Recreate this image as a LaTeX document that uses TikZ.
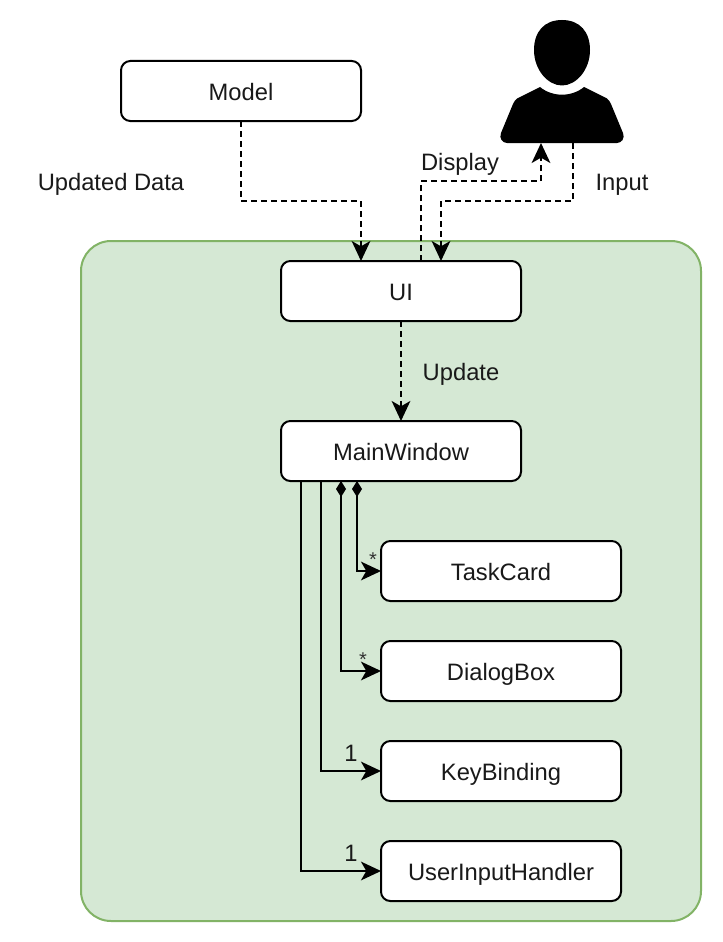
\documentclass[tikz,border=0pt]{standalone}
\usepackage{fontspec}
\setmainfont{Liberation Sans}
\usetikzlibrary{arrows.meta,calc}
\definecolor{groupfill}{HTML}{D5E8D4}
\definecolor{groupline}{HTML}{82B366}
\tikzset{
  x=0.75pt,y=-0.75pt,
  labeltext/.style={inner sep=0pt,outer sep=0pt,text height=16pt,text depth=2.5pt,font=\fontsize{17.8pt}{20pt}\selectfont,text=black!90},
  classbox/.style={labeltext,draw=black,fill=white,line width=1.5pt,rounded corners=7pt,minimum width=180pt,minimum height=45pt},
  plain/.style={labeltext},
  starmark/.style={inner sep=0pt,font=\fontsize{15pt}{16pt}\selectfont,text=black!80},
  conn/.style={line width=1.5pt,draw=black,-{Stealth[length=15pt,width=14pt,inset=4pt]}},
  depends/.style={conn,dash pattern=on 4.5pt off 3pt},
  comp/.style={conn,{Diamond[length=12pt,width=7.5pt]}-{Stealth[length=15pt,width=14pt,inset=4pt]}},
}
\begin{document}
\begin{tikzpicture}
\useasboundingbox[fill=white] (0,0) rectangle (722,942);
\node[draw=groupline,fill=groupfill,line width=1.5pt,rounded corners=22.5pt,minimum width=465pt,minimum height=510pt,inner sep=0pt] (group) at (391,581) {};
\node[classbox] (model) at (241,91) {Model};
\node[classbox] (ui) at (401,291) {UI};
\node[classbox] (main) at (401,451) {MainWindow};
\node[classbox] (task) at (501,571) {TaskCard};
\node[classbox] (dialog) at (501,671) {DialogBox};
\node[classbox] (key) at (501,771) {KeyBinding};
\node[classbox] (handler) at (501,871) {UserInputHandler};
% person
\fill[black] (562,20) .. controls (544,20) and (534,32) .. (534,50) .. controls (534,70) and (548,85.5) .. (562,85.5) .. controls (576,85.5) and (590,70) .. (590,50) .. controls (590,32) and (580,20) .. (562,20) -- cycle;
\fill[black] (540,87) .. controls (546,92) and (554,94.7) .. (562,94.7) .. controls (570,94.7) and (578,92) .. (584,87) -- (607,98.5) .. controls (609,100) and (610,102) .. (611,104) -- (623,133) .. controls (625,138) and (622,143) .. (617,143) -- (507,143) .. controls (502,143) and (499,138) .. (501,133) -- (513,104) .. controls (514,102) and (515,100) .. (517,98.5) -- cycle;
\node[minimum width=93pt,minimum height=92.25pt,inner sep=0pt,outer sep=0pt] (person) at (562,81.5) {};
% dashed
\draw[depends] (model.south) -- ++(0,80) -| ([xshift=-30pt]ui.north);
\draw[depends] ([xshift=15pt]ui.north) -- ++(0,-80) -| ([xshift=-15.75pt]person.south);
\draw[depends] ([xshift=8.25pt]person.south) -- ++(0,58) -| ([xshift=30pt]ui.north);
\draw[depends] (ui.south) -- (main.north);
% solid
\draw[comp] ([xshift=-33pt]main.south) |- (task.west);
\draw[comp] ([xshift=-45pt]main.south) |- (dialog.west);
\draw[conn] ([xshift=-60pt]main.south) |- (key.west);
\draw[conn] ([xshift=-75pt]main.south) |- (handler.west);
% labels
\node[plain] (lupdated) at (111,181) {Updated Data};
\node[plain] (ldisplay) at (460,161.5) {Display};
\node[plain] (linput) at (622,181) {Input};
\node[plain] (lupdate) at (461,371) {Update};
\node[starmark] (m1) at (373,559.5) {*};
\node[starmark] (m2) at (363,659.5) {*};
\node[plain] (m3) at (351,752) {1};
\node[plain] (m4) at (351,852) {1};
\end{tikzpicture}
\end{document}
